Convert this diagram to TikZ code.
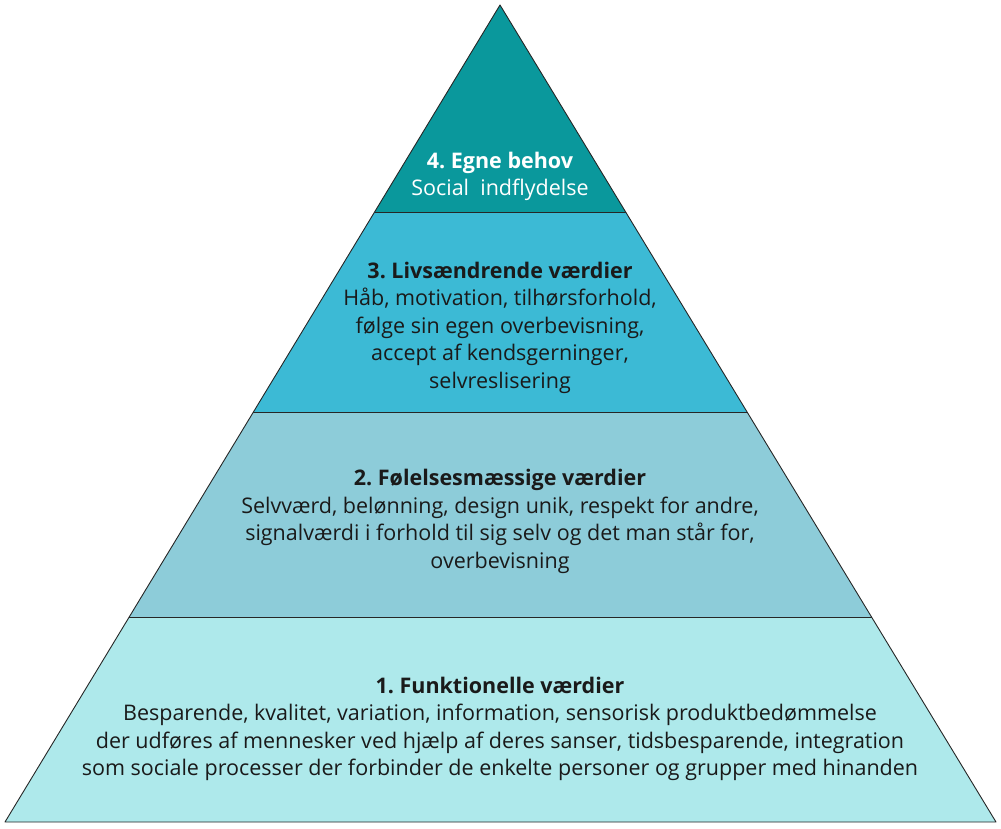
\documentclass[tikz,border=0pt]{standalone}
\usepackage{fontspec}
\setmainfont{Open Sans}
\usetikzlibrary{calc}
\definecolor{cTop}{HTML}{0A989C}
\definecolor{cThree}{HTML}{3CBAD5}
\definecolor{cTwo}{HTML}{8DCCD9}
\definecolor{cOne}{HTML}{AEE9EB}
\definecolor{txt}{HTML}{1A1A1A}
\begin{document}
\frenchspacing
\begin{tikzpicture}[x=1pt,y=-1pt,
  layer/.style={draw=black!85,line width=0.9pt,line join=round},
  lbl/.style={align=center,font=\fontsize{21.5}{27.5}\selectfont,text=txt,inner sep=0pt},
  lblw/.style={lbl,text=white}]
\useasboundingbox (0,0) rectangle (1001,829);
\coordinate (apex) at (500,5);
\coordinate (bl) at (5,822);
\coordinate (br) at (996,822);
% fractions along edges for boundaries at y=212,412,617
\coordinate (l1) at ($(apex)!0.25337!(bl)$);
\coordinate (r1) at ($(apex)!0.25337!(br)$);
\coordinate (l2) at ($(apex)!0.49816!(bl)$);
\coordinate (r2) at ($(apex)!0.49816!(br)$);
\coordinate (l3) at ($(apex)!0.74908!(bl)$);
\coordinate (r3) at ($(apex)!0.74908!(br)$);
\fill[cOne] (l3) -- (r3) -- (br) -- (bl) -- cycle;
\fill[cTwo] (l2) -- (r2) -- (r3) -- (l3) -- cycle;
\fill[cThree] (l1) -- (r1) -- (r2) -- (l2) -- cycle;
\fill[cTop] (apex) -- (r1) -- (l1) -- cycle;
\draw[layer] (l1) -- (r1);
\draw[layer] (l2) -- (r2);
\draw[layer] (l3) -- (r3);
\draw[layer] (apex) -- (br) -- (bl) -- cycle;
\node[lblw] (t4) at (500,176.5) {\textbf{4. Egne behov}\\Social\ \ indflydelse};
\node[lbl] (t3) at (500,327.5) {\textbf{3. Livsændrende værdier}\\Håb, motivation, tilhørsforhold,\\følge sin egen overbevisning,\\accept af kendsgerninger,\\selvreslisering};
\node[lbl] (t2) at (500,521.5) {\textbf{2. Følelsesmæssige værdier}\\Selvværd, belønning, design unik, respekt for andre,\\signalværdi i forhold til sig selv og det man står for,\\overbevisning};
\node[lbl] (t1) at (500,729) {\textbf{1. Funktionelle værdier}\\Besparende, kvalitet, variation, information, sensorisk produktbedømmelse\\der udføres af mennesker ved hjælp af deres sanser, tidsbesparende, integration\\som sociale processer der forbinder de enkelte personer og grupper med hinanden};
\end{tikzpicture}
\end{document}
